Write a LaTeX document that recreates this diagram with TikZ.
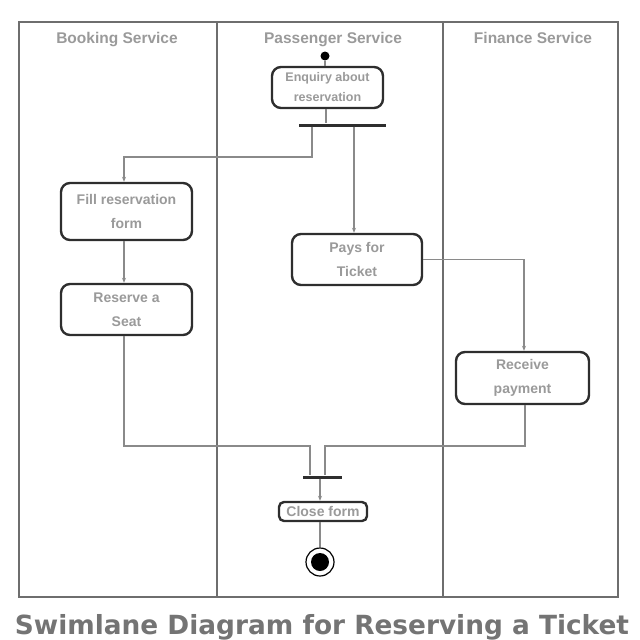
\documentclass[tikz,border=0pt]{standalone}
\usepackage{fontspec}
\usepackage{graphicx}
\setmainfont{Liberation Sans}
\newfontfamily\capfont{DejaVu Sans}
\usetikzlibrary{arrows.meta,calc}
\definecolor{lanegray}{HTML}{6E6E6E}
\definecolor{linegray}{HTML}{8A8A8A}
\definecolor{boxline}{HTML}{2E2E2E}
\definecolor{txtgray}{HTML}{9A9A9A}
\definecolor{capgray}{HTML}{747474}
\tikzset{
  actbox/.style={draw=boxline, line width=2.4pt, rounded corners=9pt, fill=white,
    inner sep=0pt, align=center, font=\bfseries\fontsize{14}{24}\selectfont, text=txtgray},
  header/.style={font=\bfseries\fontsize{15.5}{17}\selectfont, text=txtgray, inner sep=0pt, anchor=base},
  bar/.style={fill=boxline, draw=none, inner sep=0pt, minimum height=3pt},
  conn/.style={draw=linegray, line width=1.6pt},
  arr/.style={conn, -{Stealth[length=5pt,width=4pt]}},
  lane/.style={draw=lanegray, line width=1.8pt}
}
\begin{document}
\begin{tikzpicture}[x=1pt,y=-1pt]
\useasboundingbox (0,0) rectangle (640,640);
% frame and lanes
\draw[lane] (19,22) rectangle (618,597);
\draw[lane] (217,22) -- (217,597);
\draw[lane] (443,22) -- (443,597);
% headers
\node[header] (hb) at (117,43) {Booking Service};
\node[header] (hp) at (333,43) {Passenger Service};
\node[header] (hf) at (533,43) {Finance Service};
% initial node
\node[circle, fill=black, minimum size=9pt, inner sep=0pt] (init) at (325,56) {};
% actions
\node[actbox, minimum width=111pt, minimum height=41pt, font=\bfseries\fontsize{12.5}{20}\selectfont] (enq) at (327.5,87.5) {Enquiry about\\reservation};
\node[bar, minimum width=87pt] (fork) at (342.5,125) {};
\node[actbox, minimum width=131pt, minimum height=57pt] (fill) at (126.5,211.5) {Fill reservation\\form};
\node[actbox, minimum width=131pt, minimum height=51pt] (seat) at (126.5,309.5) {Reserve a\\Seat};
\node[actbox, minimum width=130pt, minimum height=51pt] (pays) at (357,259.5) {Pays for\\Ticket};
\node[actbox, minimum width=133pt, minimum height=52pt] (recv) at (522.5,378) {Receive\\payment};
\node[bar, minimum width=39pt] (join) at (322.5,477) {};
\node[actbox, rounded corners=5pt, minimum width=88pt, minimum height=19pt] (close) at (323,511.5) {Close form};
% final node
\node[circle, draw=black, line width=1.2pt, fill=white, minimum size=28pt, inner sep=0pt] (final) at (320,562) {};
\node[circle, fill=black, minimum size=18pt, inner sep=0pt] (finalin) at (final.center) {};
% connectors
\draw[conn] (init.south) -- (enq.north -| init.south);
\draw[conn] (enq.south -| 326,0) -- (fork.north -| 326,0);
\draw[arr] (fork.south -| 312,0) -- (312,157) -- (124,157) -- (fill.north -| 124,0);
\draw[arr] (fork.south -| 354,0) -- (pays.north -| 354,0);
\draw[arr] (fill.south -| 124,0) -- (seat.north -| 124,0);
\draw[arr] (pays.east) -- (524,259.5) -- (recv.north -| 524,0);
\draw[conn] (seat.south -| 124,0) -- (124,446) -- (310,446) -- (join.north -| 310,0);
\draw[conn] (recv.south -| 525,0) -- (525,446) -- (325,446) -- (join.north -| 325,0);
\draw[arr] (join.south -| 320,0) -- (close.north -| 320,0);
\draw[conn] (close.south -| 320,0) -- (final.north);
% caption
\node[font=\capfont\bfseries, text=capgray, inner sep=0pt] (cap) at (322,627)
  {\resizebox{614pt}{!}{Swimlane Diagram for Reserving a Ticket}};
\end{tikzpicture}
\end{document}
